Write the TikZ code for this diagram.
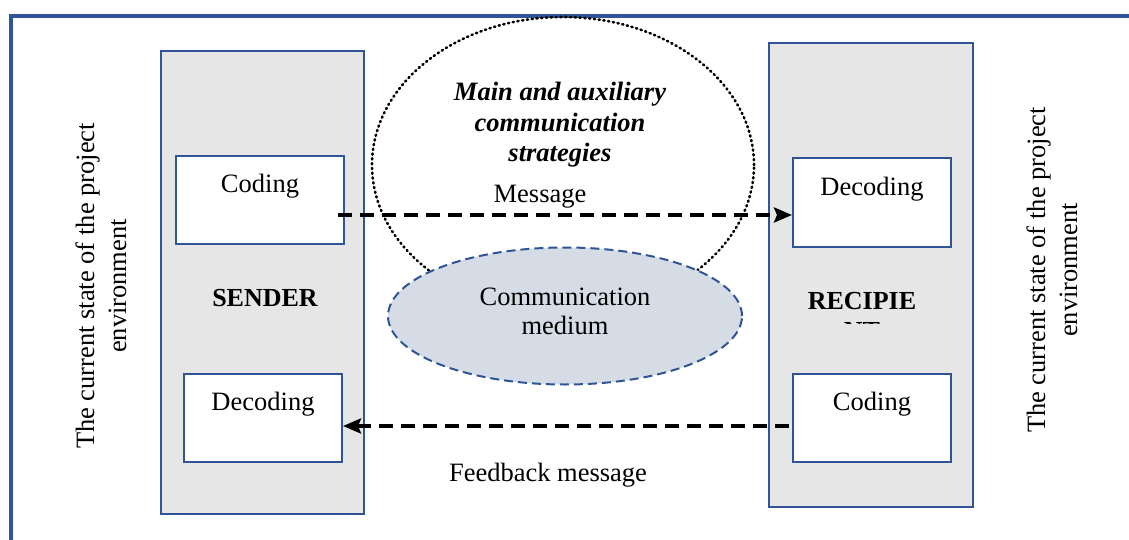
\documentclass[tikz,border=0pt]{standalone}
\usepackage{fontspec}
\setmainfont{Liberation Serif}
\usetikzlibrary{arrows.meta,shapes.geometric,calc}
\definecolor{frameblue}{HTML}{2F5597}
\definecolor{panelgray}{HTML}{E6E6E6}
\definecolor{mediumfill}{HTML}{D6DCE5}
\tikzset{
  panel/.style={draw=frameblue, line width=2pt, fill=panelgray, inner sep=0pt},
  codebox/.style={draw=frameblue, line width=2pt, fill=white, inner sep=0pt},
  txt/.style={inner sep=0pt, align=center},
  role/.style={txt, font=\fontsize{26}{30}\selectfont\bfseries},
  flow/.style={line width=3.5pt, dash pattern=on 14pt off 8pt,
    -{Stealth[length=18pt,width=15pt,inset=3pt]}},
}
\begin{document}
\begin{tikzpicture}[x=1pt,y=-1pt,font=\fontsize{26.5}{32}\selectfont]
\useasboundingbox (0,0) rectangle (1129,540);

% outer frame: left and top edges only
\coordinate (fbl) at (11,540);
\coordinate (ftl) at (11,16);
\coordinate (ftr) at (1129,16);
\draw[frameblue, line width=4pt] (fbl) -- (ftl) -- (ftr);

% sender and recipient panels
\node[panel, minimum width=203pt, minimum height=463pt] (sender) at (262.5,282.5) {};
\node[panel, minimum width=204pt, minimum height=464pt] (recip) at (871,275) {};

% coding / decoding boxes
\node[codebox, minimum width=168pt, minimum height=88pt] (scod) at (260,200) {};
\node[codebox, minimum width=158pt, minimum height=88pt] (sdec) at (263,418) {};
\node[codebox, minimum width=158pt, minimum height=89pt] (rdec) at (872,202.5) {};
\node[codebox, minimum width=158pt, minimum height=88pt] (rcod) at (872,418) {};

\node[txt] (scodt) at ($(scod.north)+(0,31)$) {Coding};
\node[txt] (sdect) at ($(sdec.north)+(0,31)$) {Decoding};
\node[txt] (rdect) at ($(rdec.north)+(0,32)$) {Decoding};
\node[txt] (rcodt) at ($(rcod.north)+(0,31)$) {Coding};

% role names
\node[role] (sendert) at (265,298) {SENDER};
\begin{scope}
  \clip (780,250) rectangle (960,323);
  \node[role] (recipt) at (862,301) {RECIPIE};
  \node[role] (recipt2) at (862,331) {NT};
\end{scope}

% strategies area
\node[ellipse, draw, line width=2.6pt, dash pattern=on 1.2pt off 3.6pt,
  line cap=round, minimum width=382pt, minimum height=296pt, inner sep=0pt]
  (strat) at (563,165) {};
\node[txt, font=\fontsize{26.5}{30.5}\selectfont\bfseries\itshape] (stratt) at (560,125)
  {Main and auxiliary\\communication\\strategies};

% communication medium
\node[ellipse, draw=frameblue, fill=mediumfill, line width=2pt,
  dash pattern=on 9pt off 5pt, minimum width=354pt, minimum height=137pt, inner sep=0pt]
  (medium) at (565,316) {};
\node[txt, font=\fontsize{26.5}{29}\selectfont] (mediumt) at (565,311) {Communication\\medium};

% environment labels
\node[txt, rotate=90] (envl) at (101,286) {The current state of the project\\environment};
\node[txt, rotate=90] (envr) at (1052,270) {The current state of the project\\environment};

% message flows
\draw[flow] ([shift={(-7,15)}]scod.east) -- ([yshift=-12.5pt]rdec.west);
\node[txt] (msgt) at (540,197) {Message};
\draw[flow] ([shift={(-3,8)}]rcod.west) -- ([yshift=-8pt]sdec.east);
\node[txt] (fbt) at (548,475) {Feedback message};
\end{tikzpicture}
\end{document}
